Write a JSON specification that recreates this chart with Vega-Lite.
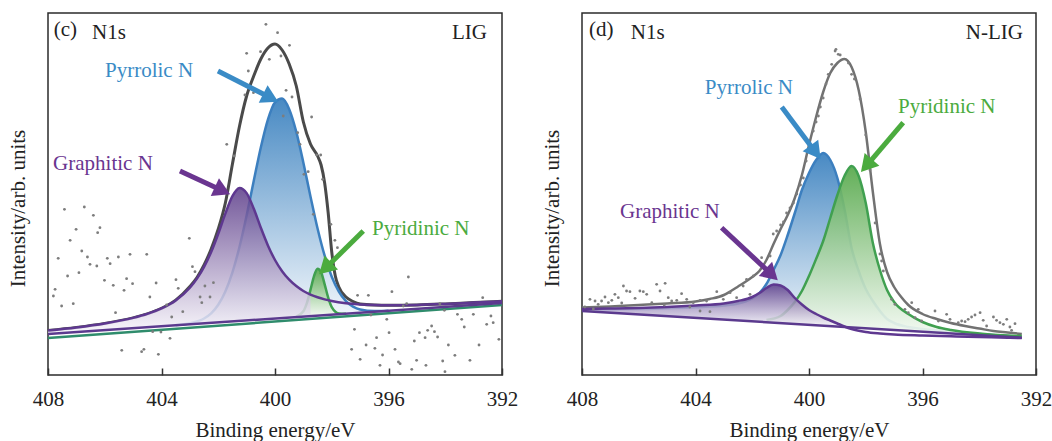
{
"$schema":"https://vega.github.io/schema/vega-lite/v6.json",
"padding":{"left":6,"top":12,"right":0,"bottom":0},
"config":{"view":{"stroke":"#2b2b2b","strokeWidth":1.5},"font":"Liberation Serif"},
"data":{"values":[
{"p":"c","s":"base","E":408,"v":41},{"p":"c","s":"base","E":392,"v":72},
{"p":"c","s":"base2","E":408,"v":37},{"p":"c","s":"base2","E":392,"v":70},
{"p":"c","s":"env","E":408,"v":44.4},{"p":"c","s":"env","E":407,"v":47.5},{"p":"c","s":"env","E":406,"v":51.5},{"p":"c","s":"env","E":405,"v":57.1},{"p":"c","s":"env","E":404.5,"v":61.1},{"p":"c","s":"env","E":404,"v":66.6},{"p":"c","s":"env","E":403.5,"v":74.8},{"p":"c","s":"env","E":403,"v":88.5},{"p":"c","s":"env","E":402.75,"v":97.5},{"p":"c","s":"env","E":402.5,"v":110},{"p":"c","s":"env","E":402.25,"v":126},{"p":"c","s":"env","E":402,"v":146},{"p":"c","s":"env","E":401.75,"v":172},{"p":"c","s":"env","E":401.5,"v":211},{"p":"c","s":"env","E":401.25,"v":249},{"p":"c","s":"env","E":401,"v":279},{"p":"c","s":"env","E":400.75,"v":299},{"p":"c","s":"env","E":400.5,"v":316},{"p":"c","s":"env","E":400.25,"v":327},{"p":"c","s":"env","E":400,"v":331},{"p":"c","s":"env","E":399.75,"v":325},{"p":"c","s":"env","E":399.5,"v":311},{"p":"c","s":"env","E":399.25,"v":289},{"p":"c","s":"env","E":399,"v":253},{"p":"c","s":"env","E":398.75,"v":231},{"p":"c","s":"env","E":398.5,"v":219},{"p":"c","s":"env","E":398.375,"v":210},{"p":"c","s":"env","E":398.25,"v":192},{"p":"c","s":"env","E":398.125,"v":162},{"p":"c","s":"env","E":398,"v":123},{"p":"c","s":"env","E":397.875,"v":99},{"p":"c","s":"env","E":397.75,"v":88},{"p":"c","s":"env","E":397.5,"v":78},{"p":"c","s":"env","E":397.25,"v":73.5},{"p":"c","s":"env","E":397,"v":71},{"p":"c","s":"env","E":396.5,"v":70},{"p":"c","s":"env","E":396,"v":69.8},{"p":"c","s":"env","E":395,"v":70.1},{"p":"c","s":"env","E":394,"v":71.1},{"p":"c","s":"env","E":393,"v":72.4},{"p":"c","s":"env","E":392,"v":73.8},
{"p":"c","s":"blue","E":403.5,"v":49.9,"b":49.72},{"p":"c","s":"blue","E":403,"v":51.7,"b":50.69},{"p":"c","s":"blue","E":402.5,"v":56.5,"b":51.66},{"p":"c","s":"blue","E":402.25,"v":61.6,"b":52.14},{"p":"c","s":"blue","E":402,"v":70.2,"b":52.63},{"p":"c","s":"blue","E":401.75,"v":83.5,"b":53.11},{"p":"c","s":"blue","E":401.5,"v":102.7,"b":53.59},{"p":"c","s":"blue","E":401.25,"v":128.3,"b":54.08},{"p":"c","s":"blue","E":401,"v":159.6,"b":54.56},{"p":"c","s":"blue","E":400.75,"v":194,"b":55.05},{"p":"c","s":"blue","E":400.5,"v":227.5,"b":55.53},{"p":"c","s":"blue","E":400.25,"v":255.4,"b":56.02},{"p":"c","s":"blue","E":400,"v":272.7,"b":56.5},{"p":"c","s":"blue","E":399.75,"v":276.4,"b":56.98},{"p":"c","s":"blue","E":399.5,"v":265.8,"b":57.47},{"p":"c","s":"blue","E":399.25,"v":243.1,"b":57.95},{"p":"c","s":"blue","E":399,"v":212.3,"b":58.44},{"p":"c","s":"blue","E":398.75,"v":178.6,"b":58.92},{"p":"c","s":"blue","E":398.5,"v":146.5,"b":59.41},{"p":"c","s":"blue","E":398.25,"v":119.3,"b":59.89},{"p":"c","s":"blue","E":398,"v":98.2,"b":60.38},{"p":"c","s":"blue","E":397.75,"v":83.5,"b":60.86},{"p":"c","s":"blue","E":397.5,"v":73.9,"b":61.34},{"p":"c","s":"blue","E":397.25,"v":68.4,"b":61.83},{"p":"c","s":"blue","E":397,"v":65.5,"b":62.31},{"p":"c","s":"blue","E":396.5,"v":63.9,"b":63.28},{"p":"c","s":"blue","E":396,"v":64.25,"b":64.25},
{"p":"c","s":"purp","E":408,"v":44.4,"b":41},{"p":"c","s":"purp","E":407,"v":47.5,"b":42.94},{"p":"c","s":"purp","E":406,"v":51.5,"b":44.88},{"p":"c","s":"purp","E":405,"v":57.1,"b":46.81},{"p":"c","s":"purp","E":404.5,"v":61.1,"b":47.78},{"p":"c","s":"purp","E":404,"v":66.6,"b":48.75},{"p":"c","s":"purp","E":403.5,"v":74.6,"b":49.72},{"p":"c","s":"purp","E":403,"v":87.3,"b":50.69},{"p":"c","s":"purp","E":402.75,"v":96.4,"b":51.17},{"p":"c","s":"purp","E":402.5,"v":108.1,"b":51.66},{"p":"c","s":"purp","E":402.25,"v":123,"b":52.14},{"p":"c","s":"purp","E":402,"v":141.3,"b":52.63},{"p":"c","s":"purp","E":401.75,"v":161.4,"b":53.11},{"p":"c","s":"purp","E":401.5,"v":178.9,"b":53.59},{"p":"c","s":"purp","E":401.25,"v":187.1,"b":54.08},{"p":"c","s":"purp","E":401,"v":181.9,"b":54.56},{"p":"c","s":"purp","E":400.75,"v":166.5,"b":55.05},{"p":"c","s":"purp","E":400.5,"v":147.3,"b":55.53},{"p":"c","s":"purp","E":400.25,"v":129.6,"b":56.02},{"p":"c","s":"purp","E":400,"v":115,"b":56.5},{"p":"c","s":"purp","E":399.75,"v":103.8,"b":56.98},{"p":"c","s":"purp","E":399.5,"v":95.3,"b":57.47},{"p":"c","s":"purp","E":399.25,"v":88.9,"b":57.95},{"p":"c","s":"purp","E":399,"v":84,"b":58.44},{"p":"c","s":"purp","E":398.75,"v":80.4,"b":58.92},{"p":"c","s":"purp","E":398.5,"v":77.7,"b":59.41},{"p":"c","s":"purp","E":398.25,"v":75.6,"b":59.89},{"p":"c","s":"purp","E":398,"v":74,"b":60.38},{"p":"c","s":"purp","E":397.5,"v":71.8,"b":61.34},{"p":"c","s":"purp","E":397,"v":70.6,"b":62.31},{"p":"c","s":"purp","E":396.5,"v":70,"b":63.28},{"p":"c","s":"purp","E":396,"v":69.8,"b":64.25},{"p":"c","s":"purp","E":395,"v":70.1,"b":66.19},{"p":"c","s":"purp","E":394,"v":71.1,"b":68.13},{"p":"c","s":"purp","E":393,"v":72.4,"b":70.06},{"p":"c","s":"purp","E":392,"v":73.8,"b":72},
{"p":"c","s":"green","E":399.25,"v":58.4,"b":57.95},{"p":"c","s":"green","E":399,"v":63.8,"b":58.44},{"p":"c","s":"green","E":398.875,"v":72.2,"b":58.68},{"p":"c","s":"green","E":398.75,"v":85.1,"b":58.92},{"p":"c","s":"green","E":398.625,"v":98.9,"b":59.17},{"p":"c","s":"green","E":398.5,"v":106.3,"b":59.41},{"p":"c","s":"green","E":398.375,"v":102.7,"b":59.65},{"p":"c","s":"green","E":398.25,"v":90.7,"b":59.89},{"p":"c","s":"green","E":398.125,"v":77.3,"b":60.13},{"p":"c","s":"green","E":398,"v":67.8,"b":60.38},{"p":"c","s":"green","E":397.75,"v":61.6,"b":60.86},{"p":"c","s":"green","E":397.5,"v":61.34,"b":61.34},
{"p":"c","s":"dot","E":407.42,"v":165.7},{"p":"c","s":"dot","E":406.72,"v":168},{"p":"c","s":"dot","E":406.4,"v":159.7},{"p":"c","s":"dot","E":407.01,"v":145.7},{"p":"c","s":"dot","E":406.17,"v":147.3},{"p":"c","s":"dot","E":406.25,"v":142.3},{"p":"c","s":"dot","E":407.22,"v":134.7},{"p":"c","s":"dot","E":407.64,"v":116.7},{"p":"c","s":"dot","E":406.81,"v":124},{"p":"c","s":"dot","E":406.61,"v":118},{"p":"c","s":"dot","E":406.52,"v":110.7},{"p":"c","s":"dot","E":406.28,"v":109},{"p":"c","s":"dot","E":405.91,"v":116.7},{"p":"c","s":"dot","E":405.81,"v":111.3},{"p":"c","s":"dot","E":405.52,"v":118},{"p":"c","s":"dot","E":405.11,"v":120.7},{"p":"c","s":"dot","E":404.52,"v":120.7},{"p":"c","s":"dot","E":406.91,"v":102.3},{"p":"c","s":"dot","E":407.31,"v":99},{"p":"c","s":"dot","E":406.01,"v":94.7},{"p":"c","s":"dot","E":405.7,"v":89.7},{"p":"c","s":"dot","E":405.23,"v":96.3},{"p":"c","s":"dot","E":405.02,"v":91.3},{"p":"c","s":"dot","E":405.32,"v":84.7},{"p":"c","s":"dot","E":407.75,"v":85.7},{"p":"c","s":"dot","E":407.81,"v":79},{"p":"c","s":"dot","E":407.52,"v":69},{"p":"c","s":"dot","E":407.11,"v":71.3},{"p":"c","s":"dot","E":404.19,"v":92},{"p":"c","s":"dot","E":404.41,"v":78},{"p":"c","s":"dot","E":403.49,"v":95.3},{"p":"c","s":"dot","E":403.41,"v":86.7},{"p":"c","s":"dot","E":402.91,"v":108.3},{"p":"c","s":"dot","E":402.82,"v":103.3},{"p":"c","s":"dot","E":403.02,"v":136.7},{"p":"c","s":"dot","E":401.7,"v":230.7},{"p":"c","s":"dot","E":402.17,"v":92.3},{"p":"c","s":"dot","E":402.47,"v":89},{"p":"c","s":"dot","E":402.64,"v":78},{"p":"c","s":"dot","E":402.29,"v":78},{"p":"c","s":"dot","E":402.58,"v":72.3},{"p":"c","s":"dot","E":403.82,"v":70},{"p":"c","s":"dot","E":403.64,"v":58},{"p":"c","s":"dot","E":403.25,"v":63.3},{"p":"c","s":"dot","E":404.31,"v":43.3},{"p":"c","s":"dot","E":404.02,"v":43},{"p":"c","s":"dot","E":403.7,"v":36.7},{"p":"c","s":"dot","E":405.4,"v":24.7},{"p":"c","s":"dot","E":404.62,"v":25.7},{"p":"c","s":"dot","E":404.7,"v":23.3},{"p":"c","s":"dot","E":404.11,"v":20.7},{"p":"c","s":"dot","E":405.62,"v":62.3},
{"p":"c","s":"dot","E":400.32,"v":350.7},{"p":"c","s":"dot","E":399.91,"v":342.3},{"p":"c","s":"dot","E":399.49,"v":329.7},{"p":"c","s":"dot","E":401,"v":321.7},{"p":"c","s":"dot","E":400.51,"v":323.3},{"p":"c","s":"dot","E":400.2,"v":315.7},{"p":"c","s":"dot","E":399.79,"v":319},{"p":"c","s":"dot","E":401.06,"v":280},{"p":"c","s":"dot","E":400.76,"v":282.3},{"p":"c","s":"dot","E":400.94,"v":304},{"p":"c","s":"dot","E":399.61,"v":284.7},{"p":"c","s":"dot","E":399.4,"v":278},{"p":"c","s":"dot","E":399.71,"v":259},{"p":"c","s":"dot","E":398.71,"v":258},{"p":"c","s":"dot","E":401.44,"v":219},{"p":"c","s":"dot","E":398.98,"v":200.7},{"p":"c","s":"dot","E":398.83,"v":203.3},{"p":"c","s":"dot","E":398.53,"v":220},{"p":"c","s":"dot","E":398.39,"v":220},{"p":"c","s":"dot","E":398.32,"v":195.7},{"p":"c","s":"dot","E":398.65,"v":160.7},{"p":"c","s":"dot","E":398.03,"v":150.7},{"p":"c","s":"dot","E":397.89,"v":134.7},{"p":"c","s":"dot","E":397.8,"v":127.3},{"p":"c","s":"dot","E":399.12,"v":230.7},{"p":"c","s":"dot","E":399.2,"v":242.3},
{"p":"c","s":"dot","E":397.09,"v":79.7},{"p":"c","s":"dot","E":396.71,"v":79.7},{"p":"c","s":"dot","E":395.88,"v":83.3},{"p":"c","s":"dot","E":395.3,"v":98},{"p":"c","s":"dot","E":395.36,"v":71.3},{"p":"c","s":"dot","E":395.48,"v":69},{"p":"c","s":"dot","E":396.06,"v":55.7},{"p":"c","s":"dot","E":395.98,"v":42.3},{"p":"c","s":"dot","E":397.2,"v":45.7},{"p":"c","s":"dot","E":396.62,"v":60},{"p":"c","s":"dot","E":396.42,"v":37.3},{"p":"c","s":"dot","E":397.3,"v":25.7},{"p":"c","s":"dot","E":397,"v":15.7},{"p":"c","s":"dot","E":396.79,"v":30},{"p":"c","s":"dot","E":396.48,"v":26.7},{"p":"c","s":"dot","E":396.3,"v":9.7},{"p":"c","s":"dot","E":396.21,"v":20},{"p":"c","s":"dot","E":395.77,"v":25.7},{"p":"c","s":"dot","E":395.65,"v":13},{"p":"c","s":"dot","E":395.59,"v":11.3},{"p":"c","s":"dot","E":395.18,"v":5.7},{"p":"c","s":"dot","E":395.09,"v":34},{"p":"c","s":"dot","E":394.91,"v":42.3},{"p":"c","s":"dot","E":394.71,"v":37.3},{"p":"c","s":"dot","E":394.62,"v":44.7},{"p":"c","s":"dot","E":394.48,"v":49},{"p":"c","s":"dot","E":394.38,"v":43.3},{"p":"c","s":"dot","E":394.27,"v":38},{"p":"c","s":"dot","E":395.01,"v":14.7},{"p":"c","s":"dot","E":394.68,"v":9.7},{"p":"c","s":"dot","E":394.09,"v":14},{"p":"c","s":"dot","E":393.89,"v":30},{"p":"c","s":"dot","E":393.66,"v":19.7},{"p":"c","s":"dot","E":393.42,"v":55.7},{"p":"c","s":"dot","E":393.57,"v":60.7},{"p":"c","s":"dot","E":393.33,"v":48},{"p":"c","s":"dot","E":393.13,"v":14.7},{"p":"c","s":"dot","E":393.01,"v":60.7},{"p":"c","s":"dot","E":392.81,"v":30},{"p":"c","s":"dot","E":392.68,"v":77.3},{"p":"c","s":"dot","E":392.39,"v":59},{"p":"c","s":"dot","E":392.54,"v":50.7},{"p":"c","s":"dot","E":392.31,"v":52.3},{"p":"c","s":"dot","E":392.11,"v":35.7},{"p":"c","s":"dot","E":394.01,"v":3.3},{"p":"c","s":"dot","E":394.03,"v":64.7},{"p":"c","s":"dot","E":394.19,"v":71.3},
{"p":"c","s":"shaft","k":"Pyrrolic","E":402.01,"v":304,"E2":400.24,"v2":278.4},{"p":"c","s":"shaft","k":"Graphitic","E":403.35,"v":204,"E2":401.94,"v2":185.5},{"p":"c","s":"shaft","k":"Pyridinic","E":396.89,"v":144,"E2":398.16,"v2":108.5},
{"p":"c","s":"head","k":"Pyrrolic","E":400.24,"v":278.4},{"p":"c","s":"head","k":"Graphitic","E":401.94,"v":185.5},{"p":"c","s":"head","k":"Pyridinic","E":398.16,"v":108.5},
{"p":"c","s":"lab","k":"plain","t":"(c)","E":407.8,"v":345},{"p":"c","s":"lab","k":"plain","t":"N1s","E":406.45,"v":342},{"p":"c","s":"labr","k":"plain","t":"LIG","E":392.53,"v":342},{"p":"c","s":"lab","k":"Pyrrolic","t":"Pyrrolic N","E":405.99,"v":304},{"p":"c","s":"lab","k":"Graphitic","t":"Graphitic N","E":407.82,"v":211},{"p":"c","s":"lab","k":"Pyridinic","t":"Pyridinic N","E":396.58,"v":146},
{"p":"d","s":"base","E":408,"v":64},{"p":"d","s":"base","E":392.5,"v":37.3},
{"p":"d","s":"env","E":408,"v":67.5},{"p":"d","s":"env","E":407,"v":68.5},{"p":"d","s":"env","E":406,"v":70},{"p":"d","s":"env","E":405,"v":71.5},{"p":"d","s":"env","E":404,"v":73.5},{"p":"d","s":"env","E":403.5,"v":76},{"p":"d","s":"env","E":403,"v":80},{"p":"d","s":"env","E":402.75,"v":84},{"p":"d","s":"env","E":402.5,"v":88.5},{"p":"d","s":"env","E":402.25,"v":93},{"p":"d","s":"env","E":402,"v":98},{"p":"d","s":"env","E":401.75,"v":104},{"p":"d","s":"env","E":401.5,"v":115},{"p":"d","s":"env","E":401.25,"v":131},{"p":"d","s":"env","E":401,"v":146},{"p":"d","s":"env","E":400.75,"v":160},{"p":"d","s":"env","E":400.5,"v":177},{"p":"d","s":"env","E":400.25,"v":200},{"p":"d","s":"env","E":400,"v":230},{"p":"d","s":"env","E":399.75,"v":258},{"p":"d","s":"env","E":399.5,"v":283},{"p":"d","s":"env","E":399.25,"v":302},{"p":"d","s":"env","E":399,"v":312},{"p":"d","s":"env","E":398.75,"v":316},{"p":"d","s":"env","E":398.5,"v":308},{"p":"d","s":"env","E":398.25,"v":285},{"p":"d","s":"env","E":398,"v":243},{"p":"d","s":"env","E":397.75,"v":183},{"p":"d","s":"env","E":397.5,"v":131},{"p":"d","s":"env","E":397.25,"v":103},{"p":"d","s":"env","E":397,"v":88},{"p":"d","s":"env","E":396.75,"v":78},{"p":"d","s":"env","E":396.5,"v":70},{"p":"d","s":"env","E":396,"v":61},{"p":"d","s":"env","E":395.5,"v":56},{"p":"d","s":"env","E":395,"v":52},{"p":"d","s":"env","E":394.5,"v":49},{"p":"d","s":"env","E":394,"v":46.5},{"p":"d","s":"env","E":393.5,"v":44},{"p":"d","s":"env","E":393,"v":42.5},{"p":"d","s":"env","E":392.5,"v":41},
{"p":"d","s":"blue","E":408,"v":65.5,"b":64},{"p":"d","s":"blue","E":407,"v":65.8,"b":62.28},{"p":"d","s":"blue","E":406,"v":66,"b":60.55},{"p":"d","s":"blue","E":405,"v":66.8,"b":58.83},{"p":"d","s":"blue","E":404,"v":67.8,"b":57.11},{"p":"d","s":"blue","E":403,"v":69.5,"b":55.39},{"p":"d","s":"blue","E":402.5,"v":71.5,"b":54.53},{"p":"d","s":"blue","E":402.25,"v":73.5,"b":54.1},{"p":"d","s":"blue","E":402,"v":76.5,"b":53.66},{"p":"d","s":"blue","E":401.75,"v":82,"b":53.23},{"p":"d","s":"blue","E":401.5,"v":91,"b":52.8},{"p":"d","s":"blue","E":401.25,"v":105,"b":52.37},{"p":"d","s":"blue","E":401,"v":120,"b":51.94},{"p":"d","s":"blue","E":400.75,"v":140,"b":51.51},{"p":"d","s":"blue","E":400.5,"v":162,"b":51.08},{"p":"d","s":"blue","E":400.25,"v":185,"b":50.65},{"p":"d","s":"blue","E":400,"v":202,"b":50.22},{"p":"d","s":"blue","E":399.75,"v":215,"b":49.79},{"p":"d","s":"blue","E":399.5,"v":222,"b":49.36},{"p":"d","s":"blue","E":399.25,"v":215,"b":48.93},{"p":"d","s":"blue","E":399,"v":197,"b":48.5},{"p":"d","s":"blue","E":398.75,"v":166,"b":48.07},{"p":"d","s":"blue","E":398.5,"v":127,"b":47.64},{"p":"d","s":"blue","E":398.25,"v":104,"b":47.2},{"p":"d","s":"blue","E":398,"v":86,"b":46.77},{"p":"d","s":"blue","E":397.75,"v":74,"b":46.34},{"p":"d","s":"blue","E":397.5,"v":64,"b":45.91},{"p":"d","s":"blue","E":397.25,"v":56,"b":45.48},{"p":"d","s":"blue","E":397,"v":52,"b":45.05},{"p":"d","s":"blue","E":396.5,"v":48,"b":44.19},{"p":"d","s":"blue","E":396,"v":46,"b":43.33},{"p":"d","s":"blue","E":395,"v":43.5,"b":41.61},{"p":"d","s":"blue","E":394,"v":41,"b":39.88},{"p":"d","s":"blue","E":393,"v":39,"b":38.16},{"p":"d","s":"blue","E":392.5,"v":38,"b":37.3},
{"p":"d","s":"green","E":401.5,"v":55,"b":52.8},{"p":"d","s":"green","E":401,"v":59,"b":51.94},{"p":"d","s":"green","E":400.75,"v":65,"b":51.51},{"p":"d","s":"green","E":400.5,"v":73,"b":51.08},{"p":"d","s":"green","E":400.25,"v":84,"b":50.65},{"p":"d","s":"green","E":400,"v":99,"b":50.22},{"p":"d","s":"green","E":399.75,"v":116,"b":49.79},{"p":"d","s":"green","E":399.5,"v":134,"b":49.36},{"p":"d","s":"green","E":399.25,"v":157,"b":48.93},{"p":"d","s":"green","E":399,"v":180,"b":48.5},{"p":"d","s":"green","E":398.75,"v":199,"b":48.07},{"p":"d","s":"green","E":398.5,"v":209,"b":47.64},{"p":"d","s":"green","E":398.25,"v":199,"b":47.2},{"p":"d","s":"green","E":398,"v":172,"b":46.77},{"p":"d","s":"green","E":397.75,"v":132,"b":46.34},{"p":"d","s":"green","E":397.5,"v":105,"b":45.91},{"p":"d","s":"green","E":397.25,"v":85,"b":45.48},{"p":"d","s":"green","E":397,"v":73,"b":45.05},{"p":"d","s":"green","E":396.5,"v":61,"b":44.19},{"p":"d","s":"green","E":396,"v":53,"b":43.33},{"p":"d","s":"green","E":395.5,"v":48,"b":42.47},{"p":"d","s":"green","E":395,"v":45,"b":41.61},{"p":"d","s":"green","E":394,"v":41.5,"b":39.88},{"p":"d","s":"green","E":393,"v":39.5,"b":38.16},{"p":"d","s":"green","E":392.5,"v":39,"b":37.3},
{"p":"d","s":"purp","E":408,"v":66,"b":64},{"p":"d","s":"purp","E":407,"v":66.5,"b":62.28},{"p":"d","s":"purp","E":406,"v":67,"b":60.55},{"p":"d","s":"purp","E":405,"v":68,"b":58.83},{"p":"d","s":"purp","E":404,"v":69.5,"b":57.11},{"p":"d","s":"purp","E":403,"v":71.5,"b":55.39},{"p":"d","s":"purp","E":402.5,"v":74,"b":54.53},{"p":"d","s":"purp","E":402,"v":78,"b":53.66},{"p":"d","s":"purp","E":401.75,"v":82,"b":53.23},{"p":"d","s":"purp","E":401.5,"v":87,"b":52.8},{"p":"d","s":"purp","E":401.25,"v":90.5,"b":52.37},{"p":"d","s":"purp","E":401,"v":89.5,"b":51.94},{"p":"d","s":"purp","E":400.75,"v":85,"b":51.51},{"p":"d","s":"purp","E":400.5,"v":77,"b":51.08},{"p":"d","s":"purp","E":400.25,"v":70.5,"b":50.65},{"p":"d","s":"purp","E":400,"v":65,"b":50.22},{"p":"d","s":"purp","E":399.75,"v":61,"b":49.79},{"p":"d","s":"purp","E":399.5,"v":57.5,"b":49.36},{"p":"d","s":"purp","E":399.25,"v":54.5,"b":48.93},{"p":"d","s":"purp","E":399,"v":51.5,"b":48.5},{"p":"d","s":"purp","E":398.75,"v":48.5,"b":48.07},{"p":"d","s":"purp","E":398.5,"v":46,"b":47.64},{"p":"d","s":"purp","E":398,"v":43,"b":46.77},{"p":"d","s":"purp","E":397.5,"v":41.5,"b":45.91},{"p":"d","s":"purp","E":397,"v":40.5,"b":45.05},{"p":"d","s":"purp","E":396,"v":39.5,"b":43.33},{"p":"d","s":"purp","E":395,"v":38.7,"b":41.61},{"p":"d","s":"purp","E":394,"v":38,"b":39.88},{"p":"d","s":"purp","E":393,"v":37.3,"b":38.16},{"p":"d","s":"purp","E":392.5,"v":37,"b":37.3},
{"p":"d","s":"dot","E":407.72,"v":75.7},{"p":"d","s":"dot","E":407.54,"v":74},{"p":"d","s":"dot","E":407.43,"v":70.7},{"p":"d","s":"dot","E":407.31,"v":74},{"p":"d","s":"dot","E":407.19,"v":78},{"p":"d","s":"dot","E":407.07,"v":72.3},{"p":"d","s":"dot","E":406.95,"v":74.7},{"p":"d","s":"dot","E":406.84,"v":80.7},{"p":"d","s":"dot","E":406.72,"v":77.3},{"p":"d","s":"dot","E":406.54,"v":89},{"p":"d","s":"dot","E":406.43,"v":84},{"p":"d","s":"dot","E":406.31,"v":83.3},{"p":"d","s":"dot","E":406.13,"v":76.7},{"p":"d","s":"dot","E":405.96,"v":84},{"p":"d","s":"dot","E":405.84,"v":83.3},{"p":"d","s":"dot","E":405.72,"v":80.7},{"p":"d","s":"dot","E":405.54,"v":72.3},{"p":"d","s":"dot","E":405.37,"v":90.7},{"p":"d","s":"dot","E":405.25,"v":84},{"p":"d","s":"dot","E":405.07,"v":91.7},{"p":"d","s":"dot","E":404.96,"v":77.3},{"p":"d","s":"dot","E":404.84,"v":74},{"p":"d","s":"dot","E":404.66,"v":74.7},{"p":"d","s":"dot","E":404.49,"v":81.3},{"p":"d","s":"dot","E":404.31,"v":75.7},{"p":"d","s":"dot","E":404.08,"v":72.3},{"p":"d","s":"dot","E":403.84,"v":74.7},{"p":"d","s":"dot","E":403.61,"v":74},{"p":"d","s":"dot","E":403.49,"v":63.3},{"p":"d","s":"dot","E":403.25,"v":83.3},{"p":"d","s":"dot","E":403.02,"v":75.7},{"p":"d","s":"dot","E":402.78,"v":82.3},{"p":"d","s":"dot","E":402.55,"v":77.3},{"p":"d","s":"dot","E":402.32,"v":89},{"p":"d","s":"dot","E":402.2,"v":95.7},{"p":"d","s":"dot","E":401.96,"v":99},{"p":"d","s":"dot","E":401.67,"v":117.3},{"p":"d","s":"dot","E":401.37,"v":119},{"p":"d","s":"dot","E":402.08,"v":80.7},{"p":"d","s":"dot","E":403.84,"v":64},{"p":"d","s":"dot","E":407.9,"v":68},{"p":"d","s":"dot","E":407.6,"v":66},{"p":"d","s":"dot","E":406.6,"v":72},{"p":"d","s":"dot","E":405.1,"v":70},{"p":"d","s":"dot","E":404.2,"v":68},
{"p":"d","s":"dot","E":401.26,"v":141},{"p":"d","s":"dot","E":401.14,"v":144},{"p":"d","s":"dot","E":400.79,"v":162},{"p":"d","s":"dot","E":400.67,"v":167},{"p":"d","s":"dot","E":400.43,"v":181},{"p":"d","s":"dot","E":400.2,"v":197},{"p":"d","s":"dot","E":399.85,"v":244},{"p":"d","s":"dot","E":399.67,"v":259},{"p":"d","s":"dot","E":399.5,"v":277},{"p":"d","s":"dot","E":399.32,"v":300.7},{"p":"d","s":"dot","E":399.2,"v":310.7},{"p":"d","s":"dot","E":399.08,"v":324},{"p":"d","s":"dot","E":398.97,"v":320.7},{"p":"d","s":"dot","E":398.9,"v":320},{"p":"d","s":"dot","E":399.05,"v":325.7},{"p":"d","s":"dot","E":398.61,"v":312},{"p":"d","s":"dot","E":398.5,"v":300.7},{"p":"d","s":"dot","E":397.67,"v":152},{"p":"d","s":"dot","E":397.5,"v":121},{"p":"d","s":"dot","E":397.38,"v":104},{"p":"d","s":"dot","E":401,"v":150},{"p":"d","s":"dot","E":400.9,"v":153},{"p":"d","s":"dot","E":400.55,"v":172},{"p":"d","s":"dot","E":400.3,"v":190},{"p":"d","s":"dot","E":400.1,"v":214},{"p":"d","s":"dot","E":400,"v":226},{"p":"d","s":"dot","E":399.75,"v":253},{"p":"d","s":"dot","E":399.6,"v":268},{"p":"d","s":"dot","E":399.4,"v":291},{"p":"d","s":"dot","E":398.4,"v":296},{"p":"d","s":"dot","E":398.2,"v":276},{"p":"d","s":"dot","E":398,"v":240},{"p":"d","s":"dot","E":397.85,"v":205},{"p":"d","s":"dot","E":397.44,"v":114},{"p":"d","s":"dot","E":397.09,"v":75.7},{"p":"d","s":"dot","E":396.97,"v":70.7},
{"p":"d","s":"dot","E":396.38,"v":72.3},{"p":"d","s":"dot","E":396.62,"v":65.7},{"p":"d","s":"dot","E":396.5,"v":62.3},{"p":"d","s":"dot","E":396.15,"v":65.7},{"p":"d","s":"dot","E":396.26,"v":57.3},{"p":"d","s":"dot","E":396.03,"v":54},{"p":"d","s":"dot","E":395.56,"v":64},{"p":"d","s":"dot","E":395.44,"v":54},{"p":"d","s":"dot","E":395.15,"v":60.7},{"p":"d","s":"dot","E":395.03,"v":55.7},{"p":"d","s":"dot","E":394.74,"v":52.3},{"p":"d","s":"dot","E":394.62,"v":54},{"p":"d","s":"dot","E":394.5,"v":53.3},{"p":"d","s":"dot","E":394.39,"v":55.7},{"p":"d","s":"dot","E":394.27,"v":58},{"p":"d","s":"dot","E":394.15,"v":60},{"p":"d","s":"dot","E":393.97,"v":62.3},{"p":"d","s":"dot","E":393.86,"v":54.7},{"p":"d","s":"dot","E":393.74,"v":49},{"p":"d","s":"dot","E":393.5,"v":58},{"p":"d","s":"dot","E":393.39,"v":54.7},{"p":"d","s":"dot","E":393.27,"v":52.3},{"p":"d","s":"dot","E":393.15,"v":50.7},{"p":"d","s":"dot","E":393.03,"v":55.7},{"p":"d","s":"dot","E":392.92,"v":48},{"p":"d","s":"dot","E":392.74,"v":51.3},{"p":"d","s":"dot","E":392.86,"v":44.7},
{"p":"d","s":"shaft","k":"Pyrrolic","E":400.96,"v":268,"E2":399.83,"v2":225},{"p":"d","s":"shaft","k":"Pyridinic","E":396.68,"v":252.3,"E2":397.91,"v2":211.4},{"p":"d","s":"shaft","k":"Graphitic","E":403.08,"v":147.3,"E2":401.39,"v2":102.4},
{"p":"d","s":"head","k":"Pyrrolic","E":399.83,"v":225},{"p":"d","s":"head","k":"Pyridinic","E":397.91,"v":211.4},{"p":"d","s":"head","k":"Graphitic","E":401.39,"v":102.4},
{"p":"d","s":"lab","k":"plain","t":"(d)","E":407.75,"v":345},{"p":"d","s":"lab","k":"plain","t":"N1s","E":406.28,"v":342},{"p":"d","s":"labr","k":"plain","t":"N-LIG","E":392.46,"v":342},{"p":"d","s":"lab","k":"Pyrrolic","t":"Pyrrolic N","E":403.67,"v":287},{"p":"d","s":"lab","k":"Pyridinic","t":"Pyridinic N","E":396.86,"v":268},{"p":"d","s":"lab","k":"Graphitic","t":"Graphitic N","E":406.66,"v":163}
]},
"facet":{"column":{"field":"p","type":"nominal","header":{"title":null,"labels":false}}},
"spacing":80,
"bounds":"flush",
"resolve":{"axis":{"x":"independent","y":"independent"}},
"spec":{
"width":454,"height":362,
"encoding":{
"x":{"field":"E","type":"quantitative","scale":{"domain":[392,408],"reverse":true,"nice":false,"zero":false},
 "axis":{"values":[392,396,400,404,408],"format":"d","grid":false,"domain":false,"tickSize":-7,"tickWidth":1.5,"tickColor":"#333","labelFlush":false,"labelOverlap":false,"labelFont":"Liberation Serif","labelFontSize":21,"labelColor":"#222","labelPadding":20,"title":"Binding energy/eV","titleFont":"Liberation Serif","titleFontSize":21,"titleFontWeight":"normal","titleColor":"#222","titlePadding":10}},
"y":{"field":"v","type":"quantitative","scale":{"domain":[0,362],"nice":false,"zero":false},
 "axis":{"labels":false,"ticks":false,"domain":false,"grid":false,"title":"Intensity/arb. units","titleFont":"Liberation Serif","titleFontSize":21,"titleFontWeight":"normal","titleColor":"#222","titlePadding":20,"titleY":195}}
},
"layer":[
{"transform":[{"filter":"datum.s==='env' && datum.p==='c'"}],"mark":{"type":"line","interpolate":"monotone","color":"#4a4a4a","strokeWidth":3}},
{"transform":[{"filter":"datum.s==='env' && datum.p==='d'"}],"mark":{"type":"line","interpolate":"monotone","color":"#727272","strokeWidth":2.5}},
{"transform":[{"filter":"datum.s==='blue'"}],"mark":{"type":"area","interpolate":"monotone","fillOpacity":0.95,"color":{"gradient":"linear","x1":1,"y1":1,"x2":1,"y2":0,"stops":[{"offset":0,"color":"#f7fafd"},{"offset":1,"color":"#3e83c0"}]}},"encoding":{"y2":{"field":"b"}}},
{"transform":[{"filter":"datum.s==='blue'"}],"mark":{"type":"line","interpolate":"monotone","color":"#3c7fbf","strokeWidth":2.5}},
{"transform":[{"filter":"datum.s==='green'"}],"mark":{"type":"area","interpolate":"monotone","fillOpacity":0.92,"color":{"gradient":"linear","x1":1,"y1":1,"x2":1,"y2":0,"stops":[{"offset":0,"color":"#f6fbf5"},{"offset":1,"color":"#55a84a"}]}},"encoding":{"y2":{"field":"b"}}},
{"transform":[{"filter":"datum.s==='green'"}],"mark":{"type":"line","interpolate":"monotone","color":"#40a050","strokeWidth":2.5}},
{"transform":[{"filter":"datum.s==='purp' && datum.E>=398.7"}],"mark":{"type":"area","interpolate":"monotone","fillOpacity":0.85,"color":{"gradient":"linear","x1":1,"y1":1,"x2":1,"y2":0,"stops":[{"offset":0,"color":"#f8f6fb"},{"offset":1,"color":"#5a3a88"}]}},"encoding":{"y2":{"field":"b"}}},
{"transform":[{"filter":"datum.s==='base2'"}],"mark":{"type":"line","color":"#2f8c6c","strokeWidth":2.5}},
{"transform":[{"filter":"datum.s==='base'"}],"mark":{"type":"line","color":"#5b3a8e","strokeWidth":2.5}},
{"transform":[{"filter":"datum.s==='purp'"}],"mark":{"type":"line","interpolate":"monotone","color":"#5e3890","strokeWidth":2.5}},
{"transform":[{"filter":"datum.s==='dot'"}],"mark":{"type":"point","shape":"circle","filled":true,"size":8,"color":"#7d7d7d","opacity":1}},
{"transform":[{"filter":"datum.s==='shaft'"}],"mark":{"type":"rule","strokeWidth":5},"encoding":{"x2":{"field":"E2"},"y2":{"field":"v2"},"color":{"field":"k","type":"nominal","scale":{"domain":["Pyrrolic","Graphitic","Pyridinic","plain"],"range":["#3a8bc6","#6a3590","#4bab3e","#222222"]},"legend":null}}},
{"transform":[{"filter":"datum.s==='head' && datum.p==='c' && datum.k==='Pyrrolic'"}],"mark":{"type":"point","shape":"triangle","filled":true,"size":380,"angle":117,"opacity":1,"color":"#3a8bc6"}},
{"transform":[{"filter":"datum.s==='head' && datum.p==='c' && datum.k==='Graphitic'"}],"mark":{"type":"point","shape":"triangle","filled":true,"size":380,"angle":115,"opacity":1,"color":"#6a3590"}},
{"transform":[{"filter":"datum.s==='head' && datum.p==='c' && datum.k==='Pyridinic'"}],"mark":{"type":"point","shape":"triangle","filled":true,"size":380,"angle":226,"opacity":1,"color":"#4bab3e"}},
{"transform":[{"filter":"datum.s==='head' && datum.p==='d' && datum.k==='Pyrrolic'"}],"mark":{"type":"point","shape":"triangle","filled":true,"size":380,"angle":143,"opacity":1,"color":"#3a8bc6"}},
{"transform":[{"filter":"datum.s==='head' && datum.p==='d' && datum.k==='Pyridinic'"}],"mark":{"type":"point","shape":"triangle","filled":true,"size":380,"angle":221,"opacity":1,"color":"#4bab3e"}},
{"transform":[{"filter":"datum.s==='head' && datum.p==='d' && datum.k==='Graphitic'"}],"mark":{"type":"point","shape":"triangle","filled":true,"size":380,"angle":133,"opacity":1,"color":"#6a3590"}},
{"transform":[{"filter":"datum.s==='lab'"}],"mark":{"type":"text","align":"left","baseline":"middle","font":"Liberation Serif","fontSize":21},"encoding":{"text":{"field":"t"},"color":{"field":"k","type":"nominal","scale":{"domain":["Pyrrolic","Graphitic","Pyridinic","plain"],"range":["#3a8bc6","#6a3590","#4bab3e","#222222"]},"legend":null}}},
{"transform":[{"filter":"datum.s==='labr'"}],"mark":{"type":"text","align":"right","baseline":"middle","font":"Liberation Serif","fontSize":21,"color":"#222222"},"encoding":{"text":{"field":"t"}}}
]
}
}
